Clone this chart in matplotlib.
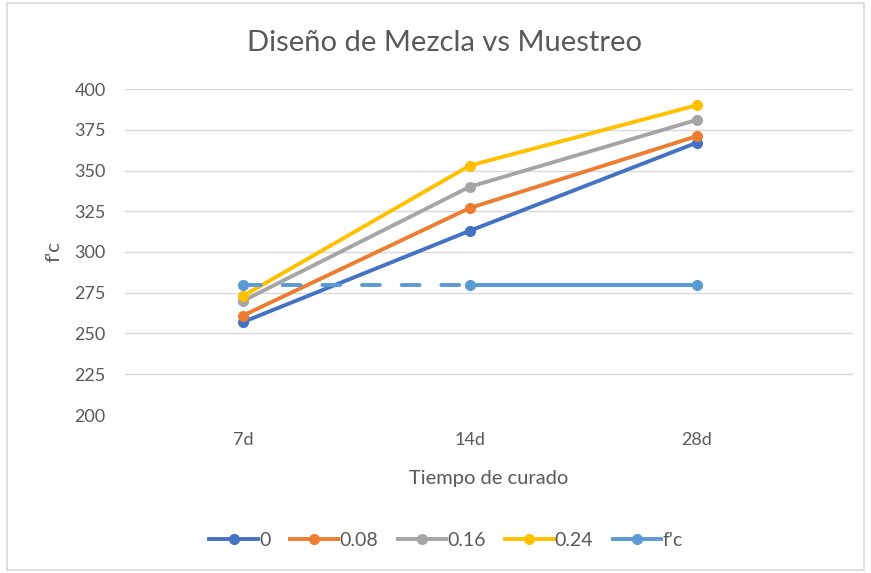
import matplotlib
matplotlib.use("Agg")
import matplotlib.pyplot as plt
from matplotlib.lines import Line2D
from matplotlib.patches import Rectangle

categories = ["7d", "14d", "28d"]
s0 = [257, 313, 367]
s008 = [261, 327, 371]
s016 = [270, 340, 381]
s024 = [273, 353, 390]
sfc = [280, 280, 280]
series_names = ["0", "0.08", "0.16", "0.24", "f'c"]
colors = ["#4472C4", "#ED7D31", "#A5A5A5", "#FFC000", "#5B9BD5"]
yticks = [200, 225, 250, 275, 300, 325, 350, 375, 400]

plt.rcParams['font.family'] = ['Lato', 'DejaVu Sans']

fig = plt.figure(figsize=(8.71, 5.73), dpi=100)
fig.patches.append(Rectangle((0.008, 0.005), 0.984, 0.99, transform=fig.transFigure,
                             fill=False, edgecolor="#d9d9d9", linewidth=1.2))
ax = fig.add_axes([125/871, 1-415/573, (853-125)/871, (415-89)/573])

x = list(range(len(categories)))
lw = 2.8
ms = 7
for vals, name, c in zip([s0, s008, s016, s024], series_names[:4], colors[:4]):
    ax.plot(x, vals, color=c, lw=lw, marker='o', ms=ms, solid_capstyle='round', zorder=3)

# f'c series: dashed first segment, solid second
ax.plot(x[:2], sfc[:2], color=colors[4], lw=lw, ls=(0, (4.6, 5.6)),
        dash_capstyle='round', zorder=4)
ax.plot(x[1:], sfc[1:], color=colors[4], lw=lw, zorder=4)
ax.plot(x, sfc, color=colors[4], lw=0, marker='o', ms=ms, zorder=5)

ax.set_ylim(200, 400)
ax.set_xlim(-0.52, 2.69)
ax.set_yticks(yticks)
ax.set_xticks(x)
ax.set_xticklabels(categories)
ax.grid(axis='y', color="#d9d9d9", lw=1)
ax.set_axisbelow(True)
for sp in ax.spines.values():
    sp.set_visible(False)
ax.tick_params(length=0, colors="#595959", labelsize=13)
ax.tick_params(axis='y', pad=14)
ax.tick_params(axis='x', pad=12)

fig.text(444/871, 1-43/573, "Diseño de Mezcla vs Muestreo", fontsize=21, color="#595959",
         ha='center', va='center')
ax.set_xlabel("Tiempo de curado", fontsize=14.5, color="#595959", labelpad=16)
ax.set_ylabel("f'c", fontsize=14.5, color="#595959", labelpad=8)

handles = [Line2D([0], [0], color=c, lw=lw, marker='o', ms=ms) for c in colors]
leg = fig.legend(handles, series_names, loc='center', bbox_to_anchor=(446/871, 1-540/573),
                 ncol=5, frameon=False, fontsize=14, handlelength=2.5, handletextpad=0.05,
                 columnspacing=1.0, labelcolor="#595959", borderaxespad=0)

fig.savefig("out.png", dpi=100)
